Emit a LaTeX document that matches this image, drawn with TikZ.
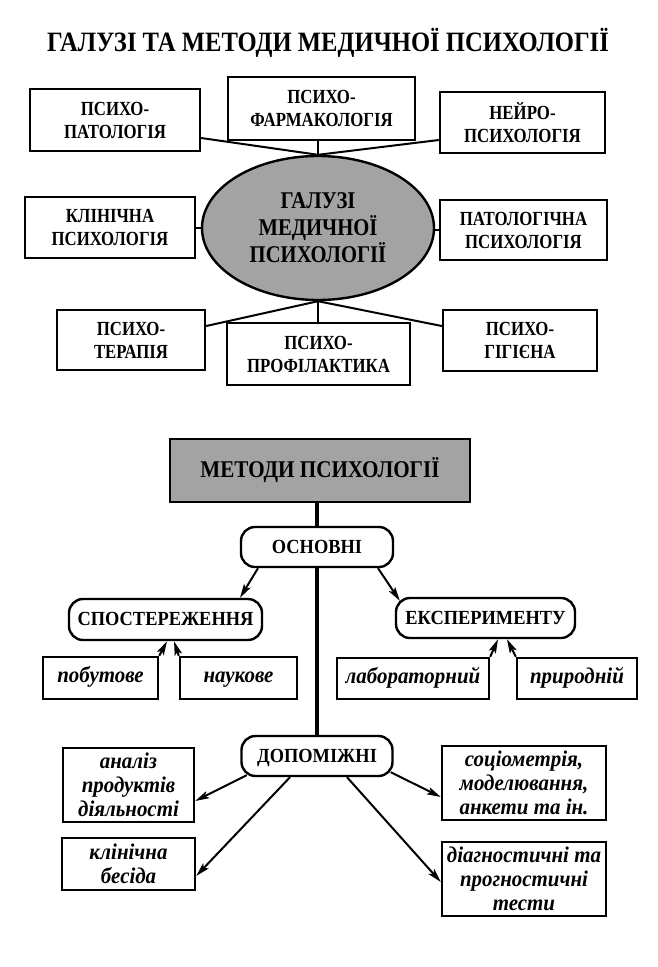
\documentclass[tikz,border=0pt]{standalone}
\usepackage{fontspec}
\setmainfont{Liberation Serif}
\newfontfamily\capsf{Liberation Serif}[FakeStretch=0.84]
\newfontfamily\pillsf{Liberation Serif}[FakeStretch=0.92]
\newfontfamily\ttlsf{Liberation Serif}[FakeStretch=0.88]
\newfontfamily\elsf{Liberation Serif}[FakeStretch=0.86]
\newfontfamily\itsf{Liberation Serif}[FakeStretch=0.93]
\usetikzlibrary{shapes.geometric,arrows.meta,calc}
\definecolor{halft}{gray}{0.64}
\begin{document}
\begin{tikzpicture}[x=1pt,y=-1pt,
  box/.style={draw, line width=2.4pt, fill=white, inner sep=0pt, align=center,
    font=\capsf\bfseries\fontsize{20}{23}\selectfont},
  ibox/.style={box, font=\itsf\bfseries\itshape\fontsize{22.5}{24}\selectfont},
  one/.style={text height=12pt, text depth=3pt},
  pill/.style={box, rounded corners=14pt, font=\pillsf\bfseries\fontsize{20}{23}\selectfont, text height=13.5pt, text depth=1pt},
  conn/.style={line width=2pt},
  mainline/.style={line width=3.2pt},
  arr/.style={line width=2pt, -{Stealth[length=14pt,width=7.5pt,inset=3pt]}}
]
\useasboundingbox (0,0) rectangle (657,967);

\node[font=\ttlsf\bfseries\fontsize{28}{32}\selectfont] (title) at (328,43) {ГАЛУЗІ ТА МЕТОДИ МЕДИЧНОЇ ПСИХОЛОГІЇ};

% upper part
\node[ellipse, draw, line width=2.4pt, fill=halft, inner sep=0pt, align=center,
  minimum width=232pt, minimum height=144pt,
  font=\elsf\bfseries\fontsize{24}{27}\selectfont] (E0) at (318,228) {ГАЛУЗІ\\МЕДИЧНОЇ\\ПСИХОЛОГІЇ};

\node[box, minimum width=170pt, minimum height=62pt] (A) at (115,120) {ПСИХО-\\ПАТОЛОГІЯ};
\node[box, minimum width=187pt, minimum height=63pt] (B) at (321.5,108.5) {ПСИХО-\\ФАРМАКОЛОГІЯ};
\node[box, minimum width=165pt, minimum height=61pt] (C) at (522.5,122.5) {НЕЙРО-\\ПСИХОЛОГІЯ};
\node[box, minimum width=170pt, minimum height=61pt] (D) at (110,227.5) {КЛІНІЧНА\\ПСИХОЛОГІЯ};
\node[box, minimum width=167pt, minimum height=60pt] (E1) at (523.5,230) {ПАТОЛОГІЧНА\\ПСИХОЛОГІЯ};
\node[box, minimum width=148pt, minimum height=60pt] (F) at (131,340) {ПСИХО-\\ТЕРАПІЯ};
\node[box, minimum width=183pt, minimum height=62pt] (G) at (318.5,354) {ПСИХО-\\ПРОФІЛАКТИКА};
\node[box, minimum width=154pt, minimum height=61pt] (H) at (520,340.5) {ПСИХО-\\ГІГІЄНА};

\draw[conn] (A.east |- 0,138) -- (E0.north);
\draw[conn] (B.south -| E0.north) -- (E0.north);
\draw[conn] (C.west |- 0,140) -- (E0.north);
\draw[conn] (E0.south) -- (F.east |- 0,326);
\draw[conn] (E0.south) -- (G.north -| E0.south);
\draw[conn] (E0.south) -- (H.west |- 0,326);
\draw[conn] (D.east) -- (D.east -| E0.west);
\draw[conn] (E1.west) -- (E1.west -| E0.east);

% lower part
\node[box, fill=halft, minimum width=300pt, minimum height=63pt,
  font=\ttlsf\bfseries\fontsize{24}{26}\selectfont] (M) at (320,470.5) {МЕТОДИ ПСИХОЛОГІЇ};
\node[pill, minimum width=152pt, minimum height=40pt] (O) at (317,547) {ОСНОВНІ};
\node[pill, minimum width=193pt, minimum height=41pt] (S) at (165.5,619.5) {СПОСТЕРЕЖЕННЯ};
\node[pill, minimum width=179pt, minimum height=40pt] (X) at (485.5,618) {ЕКСПЕРИМЕНТУ};
\node[pill, minimum width=151pt, minimum height=40pt] (P) at (317,756) {ДОПОМІЖНІ};

\node[ibox, one, minimum width=115pt, minimum height=42pt] (p1) at (100.5,678) {побутове};
\node[ibox, one, minimum width=117pt, minimum height=42pt] (p2) at (238.5,678) {наукове};
\node[ibox, one, minimum width=152pt, minimum height=41pt] (p3) at (413,678.5) {лабораторний};
\node[ibox, one, minimum width=120pt, minimum height=41pt] (p4) at (577,678.5) {природній};

\node[ibox, minimum width=131pt, minimum height=74pt] (a1) at (128.5,785) {аналіз\\продуктів\\діяльності};
\node[ibox, minimum width=133pt, minimum height=52pt] (a2) at (128.5,864) {клінічна\\бесіда};
\node[ibox, minimum width=164pt, minimum height=74pt] (b1) at (524,783) {соціометрія,\\моделювання,\\анкети та ін.};
\node[ibox, minimum width=164pt, minimum height=74pt] (b2) at (524,879) {діагностичні та\\прогностичні\\тести};

\draw[mainline] (M.south -| O.north) -- (O.north);
\draw[mainline] (O.south) -- (P.north);

\draw[arr] (O.south -| 258,0) -- (S.north -| 240,0);
\draw[arr] (O.south -| 378,0) -- ($(X.north west)+(5,4)$);
\draw[arr] (p1.north east) -- (S.south -| 167,0);
\draw[arr] (p2.north west) -- (S.south -| 174,0);
\draw[arr] (p3.north east) -- (X.south -| 498,0);
\draw[arr] (p4.north west) -- (X.south -| 507,0);

\draw[arr] ($(P.south west)+(6.5,-2)$) -- (a1.east |- 0,801);
\draw[arr] (P.south -| 290,0) -- (a2.east |- 0,876);
\draw[arr] (P.south -| 347,0) -- (b2.west |- 0,882);
\draw[arr] ($(P.south east)+(-3,-5)$) -- (b1.west |- 0,797);
\end{tikzpicture}
\end{document}
